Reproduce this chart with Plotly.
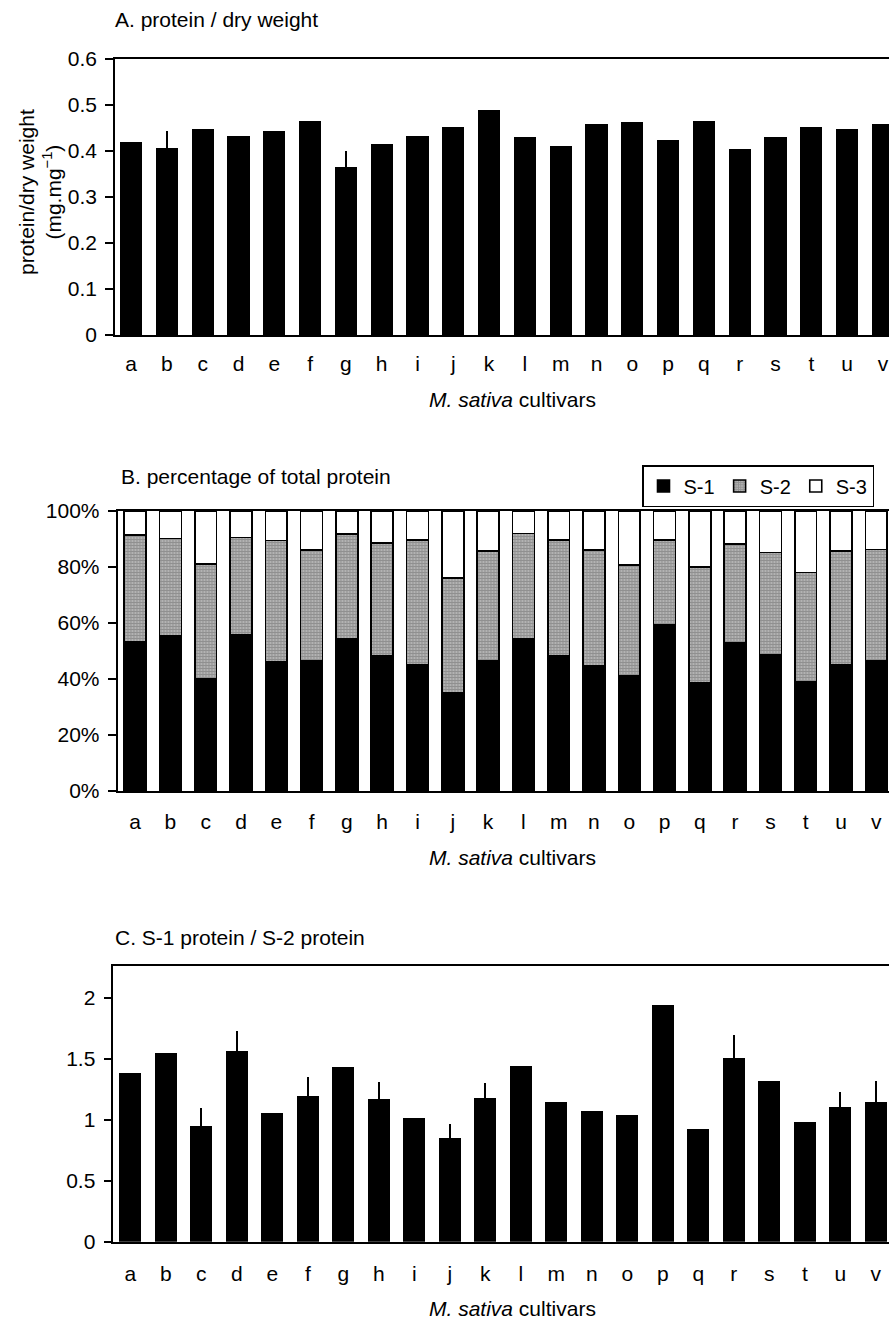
import plotly.graph_objects as go

cultivars = list("abcdefghijklmnopqrstuv")

# Panel A: protein / dry weight (mg.mg-1)
protein_dw = [0.418, 0.405, 0.446, 0.431, 0.443, 0.464, 0.364, 0.414, 0.432, 0.452, 0.488,
              0.430, 0.410, 0.457, 0.463, 0.423, 0.464, 0.403, 0.430, 0.451, 0.447, 0.457]
protein_dw_err = [0, 0.038, 0, 0, 0, 0, 0.035, 0, 0, 0, 0,
                  0, 0, 0, 0, 0, 0, 0, 0, 0, 0, 0]

# Panel B: percentage of total protein
s1_pct = [53.3, 55.4, 39.9, 55.7, 46.1, 46.5, 54.3, 48.2, 45.2, 35.1, 46.5,
          54.2, 48.2, 44.7, 41.2, 59.5, 38.8, 53.1, 48.8, 39.0, 45.2, 46.4]
s2_pct = [38.1, 34.8, 41.1, 34.9, 43.4, 39.6, 37.4, 40.3, 44.4, 40.9, 39.2,
          37.8, 41.4, 41.3, 39.5, 30.1, 41.3, 35.1, 36.4, 39.0, 40.5, 39.9]
s3_pct = [8.6, 9.8, 19.0, 9.4, 10.5, 13.9, 8.3, 11.5, 10.4, 24.0, 14.3,
          8.0, 10.4, 14.0, 19.3, 10.4, 19.9, 11.8, 14.8, 22.0, 14.3, 13.7]

# Panel C: S-1 protein / S-2 protein
s1_s2_ratio = [1.385, 1.544, 0.951, 1.563, 1.052, 1.194, 1.434, 1.167, 1.011, 0.847, 1.180,
               1.443, 1.143, 1.074, 1.039, 1.940, 0.921, 1.508, 1.317, 0.979, 1.107, 1.148]
s1_s2_err = [0, 0, 0.142, 0.164, 0, 0.153, 0, 0.144, 0, 0.118, 0.123,
             0, 0, 0, 0, 0, 0, 0.186, 0, 0, 0.118, 0.169]

W, H = 889, 1320
FONT = "Liberation Sans, Arial, sans-serif"
FS = 21
BW = 0.62

fig = go.Figure()

fig.add_trace(go.Bar(x=cultivars, y=protein_dw, width=BW, marker_color="black",
                     marker_line_width=0, showlegend=False,
                     error_y=dict(type="data", array=protein_dw_err, symmetric=False,
                                  arrayminus=[0]*len(cultivars), color="black",
                                  thickness=2, width=0),
                     xaxis="x", yaxis="y"))

fig.add_trace(go.Bar(x=cultivars, y=s1_pct, width=BW, name="S-1", marker_color="black",
                     marker_line=dict(color="black", width=1.6),
                     xaxis="x2", yaxis="y2"))
fig.add_trace(go.Bar(x=cultivars, y=s2_pct, width=BW, name="S-2",
                     marker=dict(color="white", line=dict(color="black", width=1.6),
                                 pattern=dict(shape=".", fgcolor="#222222", bgcolor="white",
                                              size=3, solidity=0.8)),
                     xaxis="x2", yaxis="y2"))
fig.add_trace(go.Bar(x=cultivars, y=s3_pct, width=BW, name="S-3", marker_color="white",
                     marker_line=dict(color="black", width=1.6),
                     xaxis="x2", yaxis="y2"))

fig.add_trace(go.Bar(x=cultivars, y=s1_s2_ratio, width=BW, marker_color="black",
                     marker_line_width=0, showlegend=False,
                     error_y=dict(type="data", array=s1_s2_err, symmetric=False,
                                  arrayminus=[0]*len(cultivars), color="black",
                                  thickness=2, width=0),
                     xaxis="x3", yaxis="y3"))

def px_x(p):
    return p / W

def px_y(p):
    return 1 - p / H

xcommon = dict(showline=True, linecolor="black", linewidth=1.5, mirror=True,
               ticks="outside", tickcolor="rgba(0,0,0,0)",
               tickfont=dict(family=FONT, size=FS, color="black"),
               showgrid=False, zeroline=False, type="category", automargin=False)
ycommon = dict(showline=True, linecolor="black", linewidth=1.5, mirror=False,
               ticks="outside", ticklen=8, tickwidth=1.5, tickcolor="black",
               tickfont=dict(family=FONT, size=FS, color="black"),
               showgrid=False, zeroline=False, ticklabelstandoff=4, automargin=False)

fig.update_layout(
    width=W, height=H, margin=dict(l=0, r=0, t=0, b=0, autoexpand=False),
    paper_bgcolor="white", plot_bgcolor="white",
    barmode="stack",
    font=dict(family=FONT, size=FS, color="black"),
    xaxis=dict(xcommon, domain=[px_x(115), 1], range=[-0.45, 21.17], ticklen=9, anchor="y"),
    yaxis=dict(ycommon, domain=[px_y(335), px_y(58.5)], range=[0, 0.6], dtick=0.1, anchor="x"),
    xaxis2=dict(xcommon, domain=[px_x(117.5), 1], range=[-0.50, 21.36], ticklen=11, anchor="y2"),
    yaxis2=dict(ycommon, domain=[px_y(791), px_y(511)], range=[0, 100], dtick=20,
                ticksuffix="%", anchor="x2"),
    xaxis3=dict(xcommon, domain=[px_x(113.3), 1], range=[-0.48, 21.37], ticklen=12, anchor="y3"),
    yaxis3=dict(ycommon, domain=[px_y(1241.7), px_y(966)], range=[0, 2.26], dtick=0.5, anchor="x3"),
    legend=dict(orientation="h", x=px_x(642), xanchor="left", y=px_y(465), yanchor="top",
                bordercolor="black", borderwidth=1.5, bgcolor="white",
                font=dict(family=FONT, size=20, color="black"), traceorder="normal"),
)

ann = []
def add_text(text, x, y, xanchor="left", angle=0):
    ann.append(dict(text=text, x=px_x(x), y=px_y(y), xref="paper", yref="paper",
                    xanchor=xanchor, yanchor="middle", showarrow=False, textangle=angle,
                    font=dict(family=FONT, size=FS, color="black")))

add_text("A. protein / dry weight", 113, 19)
add_text("B. percentage of total protein", 119, 476)
add_text("C. S-1 protein / S-2 protein", 113, 937)
add_text("<i>M. sativa</i> cultivars", 512, 400, xanchor="center")
add_text("<i>M. sativa</i> cultivars", 512, 857, xanchor="center")
add_text("<i>M. sativa</i> cultivars", 512, 1308, xanchor="center")
add_text("protein/dry weight<br>(mg.mg<sup>\u22121</sup>)", 40, 192, xanchor="center", angle=-90)
fig.update_layout(annotations=ann)

fig.write_html("out.html", config={"displayModeBar": False},
               post_script="document.body.style.margin='0';document.body.style.overflow='hidden';")
